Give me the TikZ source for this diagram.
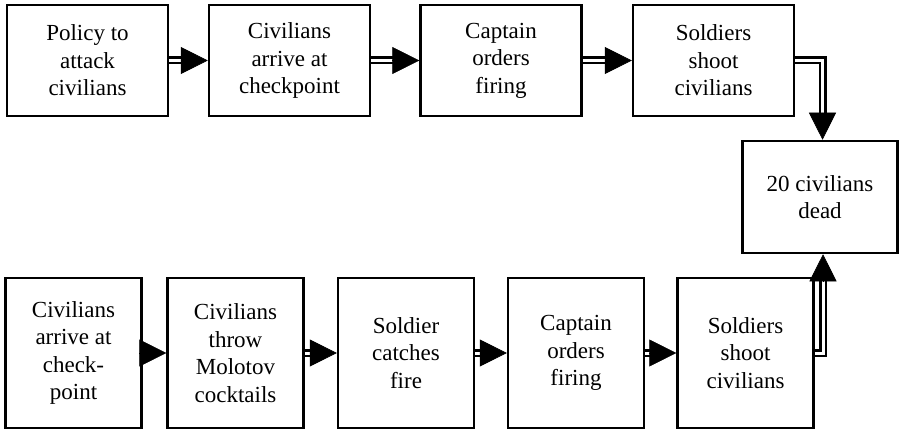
\documentclass[tikz,border=0pt]{standalone}
\usepackage{fontspec}
\setmainfont{Liberation Serif}
\newfontfamily\tnrfont{Liberation Serif}
\usetikzlibrary{arrows.meta,calc}
\begin{document}
\begin{tikzpicture}[x=1pt,y=-1pt,
 box/.style={draw=black, line width=2.5pt, fill=white, align=center, inner sep=0pt, font=\tnrfont\fontsize{23}{27.5}\selectfont},
 topbox/.style={box, minimum width=161pt, minimum height=111pt},
 botbox/.style={box, minimum width=136pt, minimum height=150pt},
 dbl/.style={draw=black, line width=2.5pt, double=white, double distance=3pt, line join=miter},
 head/.style={-{Triangle[length=27pt,width=27pt]}, line width=0.5pt}]
\useasboundingbox (0,0) rectangle (899,430);
% top row
\node[topbox] (p1) at (87.5,60.5) {Policy to\\attack\\civilians};
\node[topbox] (p2) at (289.5,60.5) {Civilians\\arrive at\\checkpoint};
\node[topbox] (p3) at (501,60.5) {Captain\\orders\\firing};
\node[topbox] (p4) at (713.5,60.5) {Soldiers\\shoot\\civilians};
% outcome
\node[box, minimum width=155pt, minimum height=112pt] (dead) at (820,197) {20 civilians\\dead};
% bottom row
\node[botbox] (b1) at (73.5,353) {Civilians\\arrive at\\check-\\point};
\node[botbox] (b2) at (235.5,353) {Civilians\\throw\\Molotov\\cocktails};
\node[botbox] (b3) at (406,353) {Soldier\\catches\\fire};
\node[botbox] (b4) at (576,353) {Captain\\orders\\firing};
\node[botbox] (b5) at (745.5,353) {Soldiers\\shoot\\civilians};
\coordinate (dn) at ($(dead.north)+(2.5,0)$);
\coordinate (ds) at ($(dead.south)+(3,0)$);
% top connectors
\foreach \a/\b in {p1/p2,p2/p3,p3/p4}{
  \draw[dbl, shorten >=20pt] (\a.east) -- (\b.west);
  \draw[head] ($(\b.west)+(-27,0)$) -- (\b.west);
}
\draw[dbl, shorten >=20pt] (p4.east) -| (dn);
\draw[head] ($(dn)+(0,-27)$) -- (dn);
% bottom connectors
\foreach \a/\b in {b1/b2,b2/b3,b3/b4,b4/b5}{
  \draw[dbl, shorten >=20pt] (\a.east) -- (\b.west);
  \draw[head] ($(\b.west)+(-27,0)$) -- (\b.west);
}
\draw[dbl, shorten >=20pt] (b5.east) -| (ds);
\draw[head] ($(ds)+(0,27)$) -- (ds);
\end{tikzpicture}
\end{document}
